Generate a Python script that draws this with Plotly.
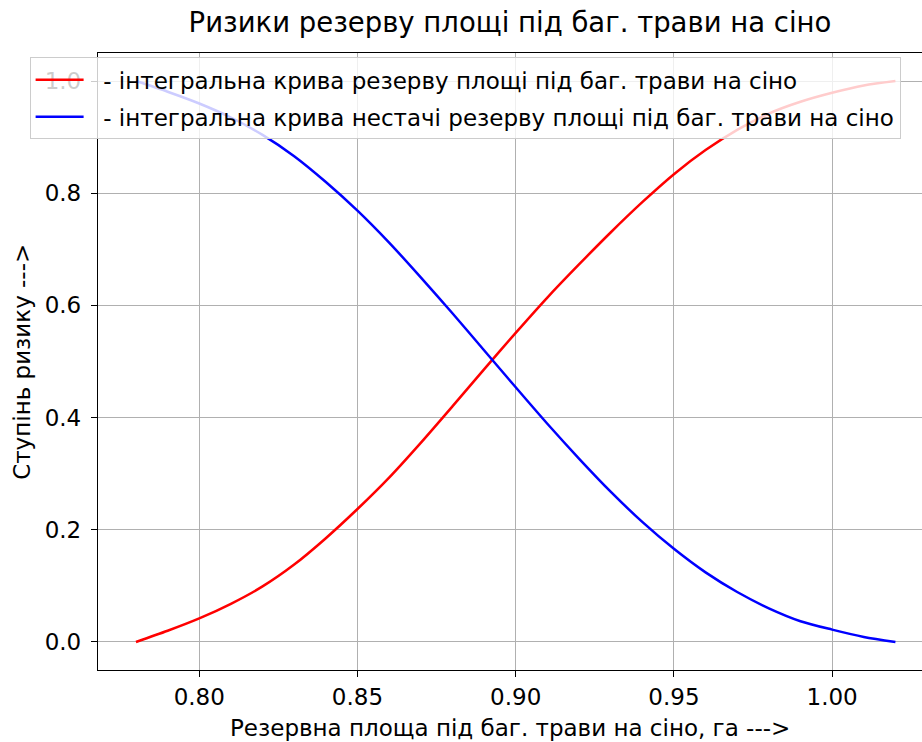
import plotly.graph_objects as go

# Data
area = [0.78, 0.79, 0.80, 0.81, 0.82, 0.83, 0.84, 0.85, 0.86, 0.87, 0.88, 0.89,
        0.90, 0.91, 0.92, 0.93, 0.94, 0.95, 0.96, 0.97, 0.98, 0.99, 1.00, 1.01, 1.02]
risk_reserve = [0.000, 0.020, 0.042, 0.068, 0.099, 0.138, 0.185, 0.237, 0.293, 0.355,
                0.420, 0.486, 0.551, 0.614, 0.673, 0.730, 0.784, 0.834, 0.877, 0.913,
                0.942, 0.963, 0.979, 0.992, 1.000]
risk_shortage = [1.000, 0.981, 0.960, 0.935, 0.904, 0.866, 0.820, 0.769, 0.712, 0.650,
                 0.586, 0.520, 0.454, 0.389, 0.327, 0.268, 0.214, 0.166, 0.124, 0.089,
                 0.060, 0.037, 0.022, 0.009, 0.000]

name_reserve = "\u00a0 - інтегральна крива резерву площі під баг. трави на сіно"
name_shortage = "\u00a0 - інтегральна крива нестачі резерву площі під баг. трави на сіно"
title_text = "Ризики резерву площі під баг. трави на сіно"
xlabel = "Резервна площа під баг. трави на сіно, га --->"
ylabel = "Ступінь ризику --->"
x_ticks = [0.80, 0.85, 0.90, 0.95, 1.00]
y_ticks = [0.0, 0.2, 0.4, 0.6, 0.8, 1.0]

FONT = "DejaVu Sans"
FS = 23

fig = go.Figure()
fig.add_trace(go.Scatter(x=area, y=risk_reserve, mode="lines", name=name_reserve,
                         legendgroup="a",
                         line=dict(color="red", width=2.5, shape="spline", smoothing=0.8)))
fig.add_trace(go.Scatter(x=area, y=risk_shortage, mode="lines", name=name_shortage,
                         legendgroup="b",
                         line=dict(color="blue", width=2.5, shape="spline", smoothing=0.8)))

fig.update_layout(
    width=922, height=742,
    margin=dict(l=98, r=0, t=53, b=72),
    paper_bgcolor="white", plot_bgcolor="white",
    font=dict(family=FONT, size=FS, color="black"),
    showlegend=True,
    legend=dict(x=-0.083, y=0.993, xanchor="left", yanchor="top",
                bgcolor="rgba(255,255,255,0.8)", bordercolor="#cccccc", borderwidth=1,
                font=dict(family=FONT, size=FS, color="black"),
                tracegroupgap=4, itemwidth=48),
    title=dict(text=title_text, x=0.5, xanchor="center", xref="paper",
               y=0.97, yanchor="middle", yref="container",
               font=dict(family=FONT, size=27.5, color="black")),
)

fig.update_xaxes(range=[0.768, 1.0284], tickvals=x_ticks, tickformat=".2f",
                 showgrid=True, gridcolor="#b0b0b0", gridwidth=1.2,
                 showline=True, linecolor="black", linewidth=1.3, mirror=True,
                 ticks="outside", ticklen=6, tickcolor="black", tickwidth=1.2,
                 zeroline=False, tickfont=dict(family=FONT, size=FS, color="black"))
fig.update_yaxes(range=[-0.05, 1.05], tickvals=y_ticks, tickformat=".1f",
                 showgrid=True, gridcolor="#b0b0b0", gridwidth=1.2,
                 showline=True, linecolor="black", linewidth=1.3, mirror=False,
                 ticks="outside", ticklen=6, tickcolor="black", tickwidth=1.2,
                 ticklabelstandoff=5,
                 zeroline=False, tickfont=dict(family=FONT, size=FS, color="black"))

fig.add_annotation(text=xlabel, xref="paper", yref="paper", x=0.5, y=-0.094,
                   xanchor="center", yanchor="middle", showarrow=False,
                   font=dict(family=FONT, size=FS, color="black"))
fig.add_annotation(text=ylabel, xref="paper", yref="paper", x=-0.093, y=0.5,
                   xanchor="center", yanchor="middle", showarrow=False, textangle=-90,
                   font=dict(family=FONT, size=FS, color="black"))

fig.write_html("out.html")
